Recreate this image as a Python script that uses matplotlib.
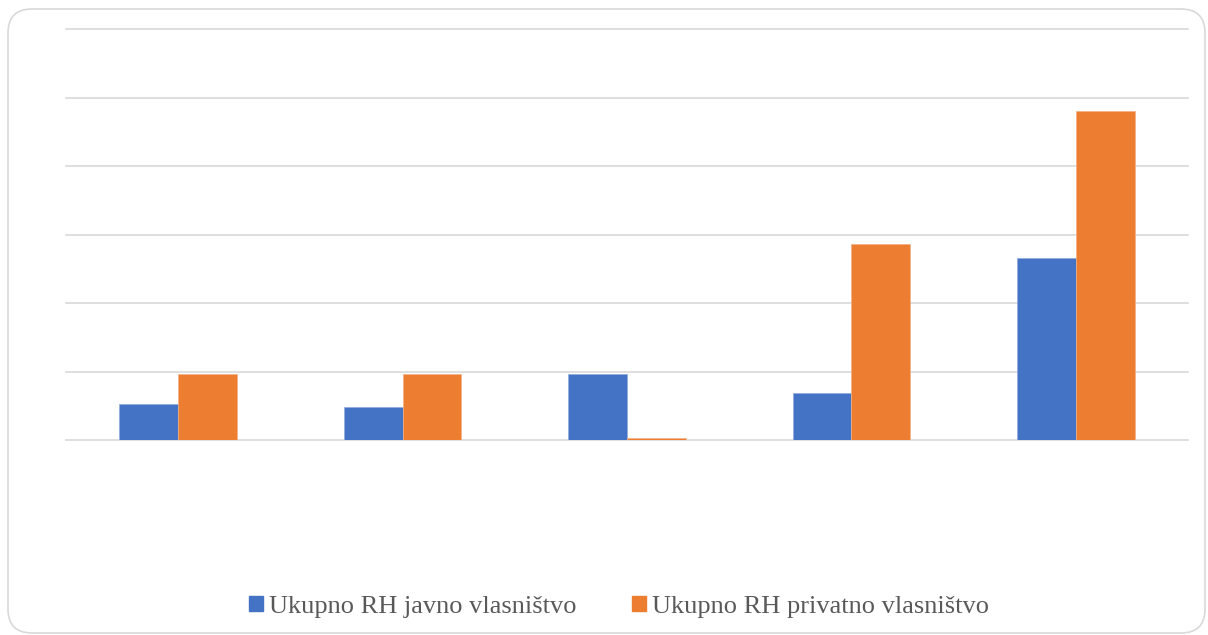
import matplotlib
matplotlib.use("Agg")
import matplotlib.pyplot as pyplot
from matplotlib.patches import FancyBboxPatch, Patch
from matplotlib.transforms import IdentityTransform
import numpy as np

# no category labels are shown in the reference
categories = ["1", "2", "3", "4", "5"]
javno = [1050, 960, 1940, 1360, 5320]
privatno = [1920, 1920, 70, 5720, 9620]
series_names = ["Ukupno RH javno vlasništvo", "Ukupno RH privatno vlasništvo"]

blue = "#4472C4"
orange = "#ED7D31"
grid_color = "#D9D9D9"

figure = pyplot.figure(figsize=(12.08, 6.35), dpi=100)
axe = figure.add_axes([66 / 1208, 1 - 440 / 635, (1188 - 66) / 1208, (440 - 29) / 635])

x = np.arange(len(categories)) + 0.5
width = 0.262
axe.bar(x - width / 2, javno, width, color=blue, edgecolor="#8FAADC", linewidth=0.5, zorder=3)
axe.bar(x + width / 2, privatno, width, color=orange, edgecolor="#F4B183", linewidth=0.5, zorder=3)

axe.set_xlim(0, len(categories))
axe.set_ylim(0, 12000)
axe.set_yticks(np.arange(0, 12001, 2000))
axe.yaxis.grid(True, color=grid_color, linewidth=1.2, zorder=0)
for line in axe.get_ygridlines():
    line.set_clip_on(False)
axe.set_xticks([])
axe.tick_params(left=False, labelleft=False)
for side in axe.spines:
    axe.spines[side].set_visible(False)

# rounded chart border
border = FancyBboxPatch((8, 2), 1197, 624, boxstyle="round,pad=0,rounding_size=24",
                        transform=IdentityTransform(), facecolor="none",
                        edgecolor=grid_color, linewidth=1.2)
figure.add_artist(border)

handles = [Patch(color=blue), Patch(color=orange)]
figure.legend(handles, series_names, loc="center", bbox_to_anchor=(619 / 1208, 1 - 607 / 635),
              ncol=2, frameon=False, handlelength=0.53, handleheight=0.53, handletextpad=0.22,
              columnspacing=2.1,
              prop={"family": "Liberation Serif", "size": 19}, labelcolor="#595959")

figure.savefig("out.png", dpi=100)
